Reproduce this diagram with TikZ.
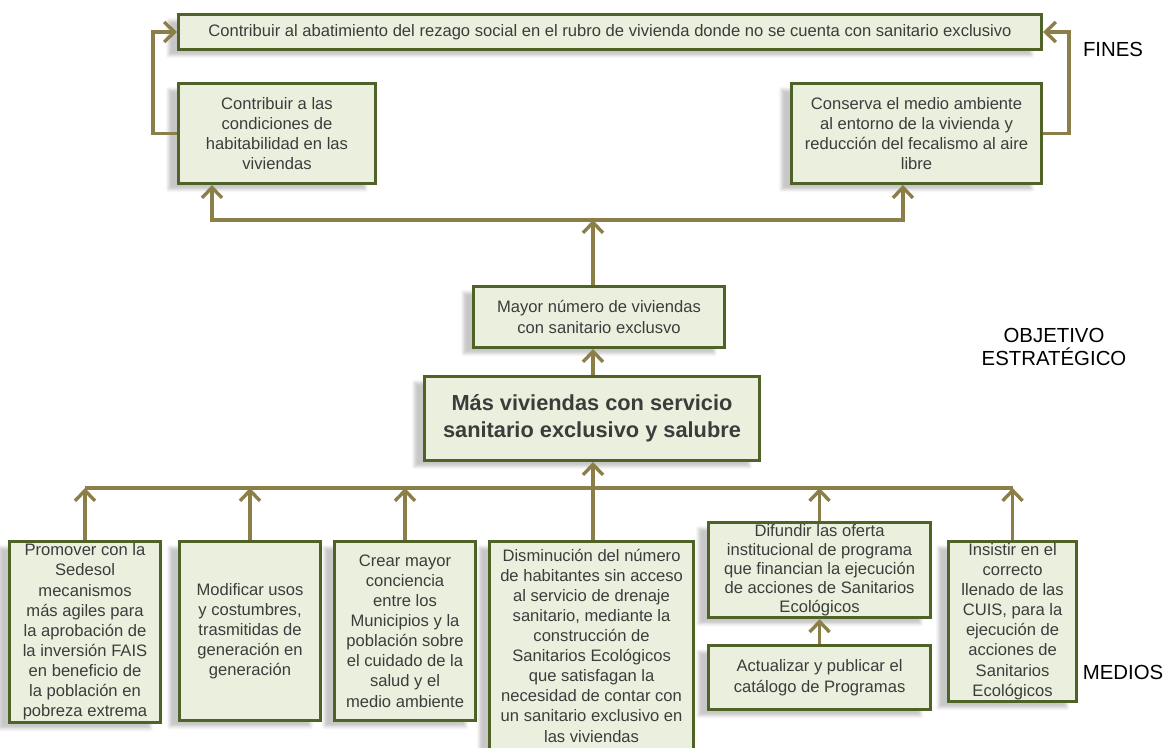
\documentclass[tikz,border=0pt]{standalone}
\usepackage{fontspec}
\setmainfont{Liberation Sans}
\usepackage{tikz}
\usetikzlibrary{positioning, arrows.meta, shadows.blur}
\definecolor{oliva}{RGB}{140,126,72}
\definecolor{verdeosc}{RGB}{79,98,40}
\definecolor{relleno}{RGB}{235,240,222}
\definecolor{gristexto}{RGB}{60,60,60}
\tikzset{
  caja/.style={rectangle, draw=verdeosc, line width=2pt, fill=relleno, text=gristexto, align=center, inner xsep=1mm, inner ysep=0.5mm, font=\fontsize{11.8}{14.3}\selectfont, blur shadow={shadow xshift=-2.5mm, shadow yshift=-1.5mm, shadow opacity=22}},
  flecha/.style={draw=oliva, line width=2.4pt, -{Straight Barb[length=2.6mm, width=5mm]}},
  linea/.style={draw=oliva, line width=2.4pt},
  etiqueta/.style={align=center, font=\fontsize{14.5}{16.5}\selectfont}
}

\begin{document}
\begin{tikzpicture}[
            x=0.25mm, y=-0.25mm,
            node distance=6mm and 3mm
        ]
            \useasboundingbox (0,0) rectangle (1172,747);

            % Nodos de fines
            \node (fin0) [caja, minimum width=215.8mm, minimum height=8.8mm] at (610,32) {Contribuir al abatimiento del rezago social en el rubro de vivienda donde no se cuenta con sanitario exclusivo};
            \node (finL) [caja, minimum width=49.3mm, minimum height=25.05mm, below right=7.75mm and 0mm of fin0.south west] {Contribuir a las\\ condiciones de\\ habitabilidad en las\\ viviendas};
            \node (finR) [caja, minimum width=62.55mm, minimum height=25.05mm, below left=7.75mm and 0mm of fin0.south east] {Conserva el medio ambiente\\ al entorno de la vivienda y\\ reducción del fecalismo al aire\\ libre};

            % Objetivo estrategico
            \node (mas) [caja, font=\bfseries\fontsize{15.5}{19}\selectfont, minimum width=83.8mm, minimum height=21.05mm] at (592,418.5) {Más viviendas con servicio\\ sanitario exclusivo y salubre};
            \node (mayor) [caja, minimum width=62.8mm, minimum height=15.3mm, above=6.5mm of mas, xshift=1.75mm] {Mayor número de viviendas\\ con sanitario exclusvo};

            % Nodos de medios
            \node (m1) [caja, minimum width=37.8mm, minimum height=45.3mm, anchor=north west] at (8,540) {Promover con la\\ Sedesol\\ mecanismos\\ más agiles para\\ la aprobación de\\ la inversión FAIS\\ en beneficio de\\ la población en\\ pobreza extrema};
            \node (m2) [caja, minimum width=35.3mm, minimum height=44.8mm, right=4mm of m1.north east, anchor=north west] {Modificar usos\\ y costumbres,\\ trasmitidas de\\ generación en\\ generación};
            \node (m3) [caja, minimum width=35.3mm, minimum height=44.8mm, right=2.75mm of m2.north east, anchor=north west] {Crear mayor\\ conciencia\\ entre los\\ Municipios y la\\ población sobre\\ el cuidado de la\\ salud y el\\ medio ambiente};
            \node (m4) [caja, minimum width=51.05mm, minimum height=52.05mm, right=2.75mm of m3.north east, anchor=north west] {Disminución del número\\ de habitantes sin acceso\\ al servicio de drenaje\\ sanitario, mediante la\\ construcción de\\ Sanitarios Ecológicos\\ que satisfagan la\\ necesidad de contar con\\ un sanitario exclusivo en\\ las viviendas};
            \node (m5) [caja, font=\fontsize{11.8}{13.5}\selectfont, minimum width=55.55mm, minimum height=23.3mm, right=3mm of m4.north east, anchor=north west, yshift=4.75mm] {Difundir las oferta\\ institucional de programa\\ que financian la ejecución\\ de acciones de Sanitarios\\ Ecológicos};
            \node (m6) [caja, minimum width=55.55mm, minimum height=16.05mm, below=6.25mm of m5] {Actualizar y publicar el\\ catálogo de Programas};
            \node (m7) [caja, minimum width=32.05mm, minimum height=40.05mm, right=3.75mm of m5.north east, anchor=north west, yshift=-4.75mm] {Insistir en el\\ correcto\\ llenado de las\\ CUIS, para la\\ ejecución de\\ acciones de\\ Sanitarios\\ Ecológicos};

            % Etiquetas de nivel
            \node (fines) [etiqueta] at (1113,49) {FINES};
            \node (objetivo) [etiqueta] at (1054,347) {OBJETIVO\\ ESTRATÉGICO};
            \node (medios) [etiqueta] at (1123,672) {MEDIOS};

            % Conexiones hacia los fines
            \coordinate (barT) at (593,220);
            \coordinate (barB) at (593,488);
            \draw [flecha] (finL.west) -- ++(-6mm,0) |- (fin0.west);
            \draw [flecha] (finR.east) -- ++(6.5mm,0) |- (fin0.east);
            \draw [flecha] (barT) -| ([xshift=-16.25mm]finL.south);
            \draw [flecha] (barT) -| ([xshift=-3.4mm]finR.south);
            \draw [flecha] (mayor.north -| barT) -- (barT);
            \draw [flecha] (mas.north -| barT) -- (mayor.south -| barT);

            % Conexiones desde los medios
            \draw [linea] (m1.north |- barB) -- (m7.north |- barB);
            \draw [flecha] (m4.north -| barB) -- (mas.south -| barB);
            \foreach \m in {m1,m2,m3,m5,m7}
                \draw [flecha] (\m.north) -- (\m.north |- barB);
            \draw [flecha] (m6) -- (m5);

        \end{tikzpicture}
\end{document}
